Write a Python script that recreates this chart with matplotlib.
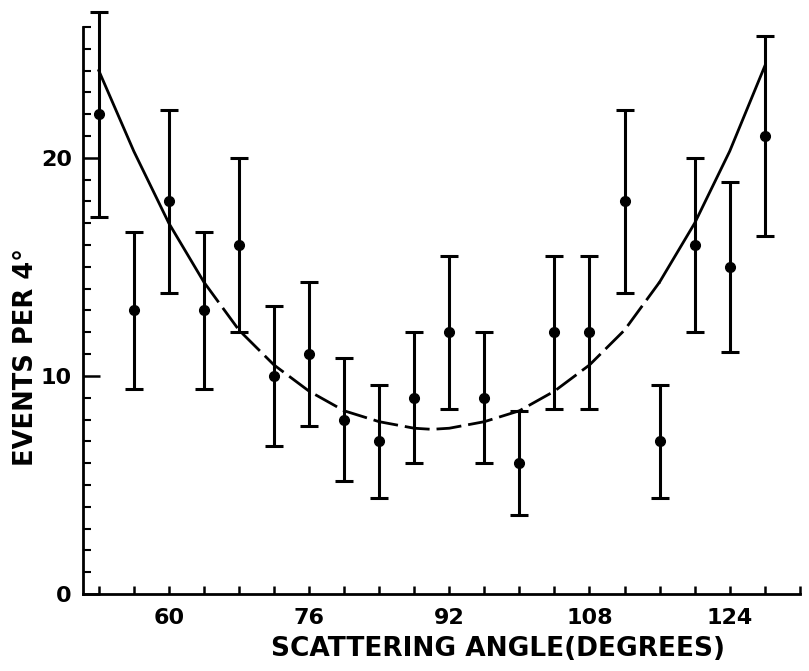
import matplotlib
matplotlib.use("Agg")
import matplotlib.pyplot as plt
from matplotlib.ticker import MultipleLocator, FixedLocator

# scattering angle bins (degrees) and event counts per 4 degree bin
angles = [52, 56, 60, 64, 68, 72, 76, 80, 84, 88, 92, 96, 100, 104, 108, 112, 116, 120, 124, 128]
events = [22, 13, 18, 13, 16, 10, 11, 8, 7, 9, 12, 9, 6, 12, 12, 18, 7, 16, 15, 21]
errors = [4.7, 3.6, 4.2, 3.6, 4.0, 3.2, 3.3, 2.8, 2.6, 3.0, 3.5, 3.0, 2.4, 3.5, 3.5, 4.2, 2.6, 4.0, 3.9, 4.6]

# fitted curve
curve_x = [52, 56, 60, 64, 68, 72, 76, 80, 84, 88, 90, 92, 96, 100, 104, 108, 112, 116, 120, 124, 128]
curve_y = [24.0, 20.3, 17.0, 14.3, 12.1, 10.5, 9.3, 8.4, 7.9, 7.6, 7.55, 7.6, 7.9, 8.4, 9.3, 10.5, 12.1, 14.3, 17.0, 20.3, 24.2]

xtick_values = [60, 76, 92, 108, 124]

fig = plt.figure(figsize=(8.09, 6.71), dpi=100)
ax = fig.add_axes([0.1026, 0.1148, 0.886, 0.845])

ax.plot(curve_x[:4], curve_y[:4], color="black", lw=2.0)
ax.plot(curve_x[3:18], curve_y[3:18], color="black", lw=2.0, linestyle=(0, (9, 2.5)))
ax.plot(curve_x[17:], curve_y[17:], color="black", lw=2.0)

eb = ax.errorbar(angles, events, yerr=errors, fmt="o", color="black", ms=7,
                 elinewidth=2.2, capsize=6.5, capthick=2.2)
# top error bar pokes above the axis
for artist in list(eb.lines[1]) + list(eb.lines[2]):
    artist.set_clip_on(False)

ax.set_xlim(50.2, 132)
ax.set_ylim(0, 26)

for side in ("top", "right"):
    ax.spines[side].set_visible(False)
for side in ("left", "bottom"):
    ax.spines[side].set_linewidth(2.0)

ax.xaxis.set_major_locator(FixedLocator(xtick_values))
ax.xaxis.set_minor_locator(MultipleLocator(4))
ax.yaxis.set_major_locator(MultipleLocator(10))
ax.yaxis.set_minor_locator(MultipleLocator(1))

ax.tick_params(axis="x", which="both", direction="in", length=6, width=1.8, pad=10)
ax.tick_params(axis="y", which="major", direction="in", length=12, width=1.8, pad=8)
ax.tick_params(axis="y", which="minor", direction="in", length=6, width=1.5)

for lbl in ax.get_xticklabels() + ax.get_yticklabels():
    lbl.set_fontsize(16)
    lbl.set_fontweight("bold")

ax.set_xlabel("SCATTERING ANGLE(DEGREES)", fontsize=19, fontweight="bold")
ax.set_ylabel("EVENTS PER 4°", fontsize=18.5, fontweight="bold")
ax.xaxis.set_label_coords(0.579, -0.074)
ax.yaxis.set_label_coords(-0.062, 0.418)

fig.savefig("out.png", dpi=100)
